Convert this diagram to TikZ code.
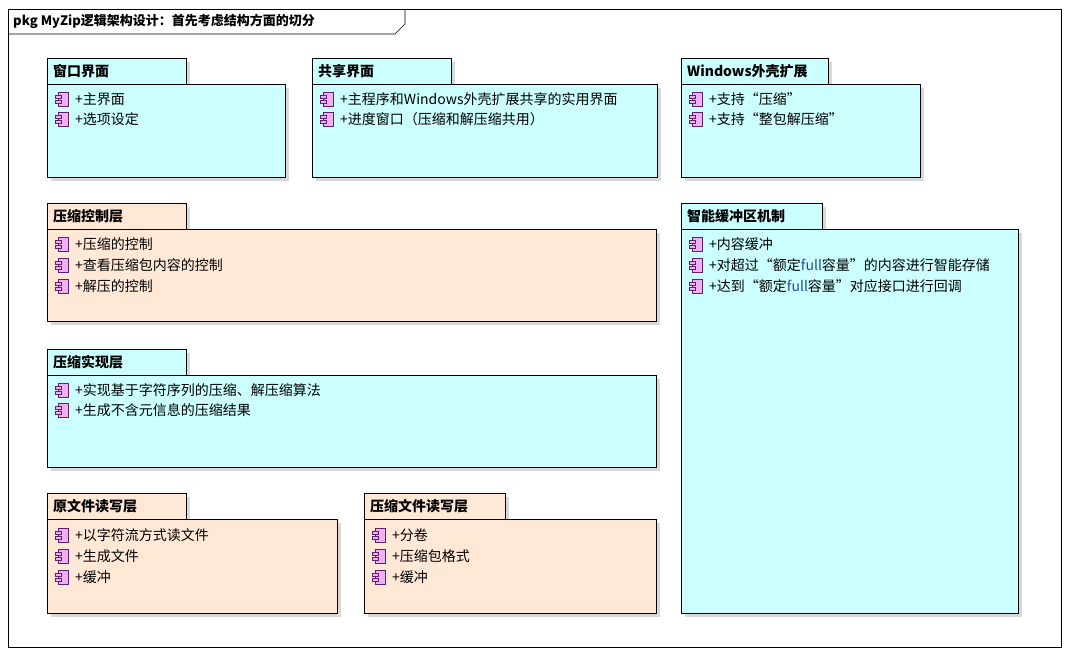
\documentclass[tikz,border=0pt]{standalone}
\usepackage{fontspec}
\setmainfont{Noto Sans CJK SC}
\usetikzlibrary{positioning}
\definecolor{cy}{HTML}{CCFFFF}
\definecolor{pe}{HTML}{FFE9D6}
\definecolor{ic}{HTML}{EEB0EE}
\definecolor{icd}{HTML}{602070}
\definecolor{fb}{HTML}{1F4E9E}
\tikzset{
 shad/.style={fill=black!15,draw=none},
 box/.style={draw=black,line width=0.7pt},
 ttl/.style={anchor=west,inner sep=0pt,font=\fontsize{14}{14}\selectfont\bfseries},
 itm/.style={anchor=west,inner sep=0pt,font=\fontsize{14}{14}\selectfont},
}
\newcommand\icn[2]{%
 \draw[icd,fill=ic,line width=0.6pt] (#1+4,#2-7) rectangle (#1+14,#2+7);
 \draw[icd,fill=ic,line width=0.6pt] (#1+1,#2-4) rectangle (#1+7,#2-1);
 \draw[icd,fill=ic,line width=0.6pt] (#1+1,#2+1) rectangle (#1+7,#2+4);}
\newcommand\pk[8]{%
 \fill[shad] (#2+4,#3+4) rectangle (#4+4,#3+30);
 \fill[shad] (#2+4,#3+30) rectangle (#5+4,#6+4);
 \draw[box,fill=#7] (#2,#3) rectangle (#4,#3+26);
 \draw[box,fill=#7] (#2,#3+26) rectangle (#5,#6);
 \node[ttl] (#1) at (#2+6,#3+13) {#8};}
\newcommand\itmx[4]{\icn{#2}{#3}\node[itm] (#1) at (#2+21,#3) {+#4};}
\begin{document}
\begin{tikzpicture}[x=1pt,y=-1pt]
\useasboundingbox[fill=white] (0,0) rectangle (1069,655);
\draw[box] (8,9) rectangle (1061,647);
\draw[box] (8,34) -- (395,34) -- (405,24) -- (405,9);
\node[anchor=west,inner sep=0pt,font=\fontsize{13}{13}\selectfont\bfseries] (title) at (13,21) {pkg MyZip逻辑架构设计：首先考虑结构方面的切分};
\pk{p1}{47}{58}{186}{285}{177}{cy}{窗口界面}
\itmx{a1}{54}{99}{主界面}
\itmx{a2}{54}{119}{选项设定}
\pk{p2}{312}{58}{451}{657}{177}{cy}{共享界面}
\itmx{b1}{319}{99}{主程序和Windows外壳扩展共享的实用界面}
\itmx{b2}{319}{119}{进度窗口（压缩和解压缩共用）}
\pk{p3}{681}{58}{828}{920}{177}{cy}{Windows外壳扩展}
\itmx{c1}{688}{99}{支持“压缩”}
\itmx{c2}{688}{119}{支持“整包解压缩”}
\pk{p4}{47}{203}{186}{656}{321}{pe}{压缩控制层}
\itmx{d1}{54}{244}{压缩的控制}
\itmx{d2}{54}{265}{查看压缩包内容的控制}
\itmx{d3}{54}{286}{解压的控制}
\pk{p5}{47}{349}{186}{656}{467}{cy}{压缩实现层}
\itmx{e1}{54}{390}{实现基于字符序列的压缩、解压缩算法}
\itmx{e2}{54}{410}{生成不含元信息的压缩结果}
\pk{p6}{47}{493}{186}{337}{613}{pe}{原文件读写层}
\itmx{f1}{54}{535}{以字符流方式读文件}
\itmx{f2}{54}{556}{生成文件}
\itmx{f3}{54}{577}{缓冲}
\pk{p7}{364}{493}{505}{656}{613}{pe}{压缩文件读写层}
\itmx{g1}{371}{535}{分卷}
\itmx{g2}{371}{556}{压缩包格式}
\itmx{g3}{371}{577}{缓冲}
\pk{p8}{681}{203}{822}{1018}{613}{cy}{智能缓冲区机制}
\itmx{h1}{688}{244}{内容缓冲}
\itmx{h2}{688}{265}{对超过“额定\textcolor{fb}{full}容量”的内容进行智能存储}
\itmx{h3}{688}{286}{达到“额定\textcolor{fb}{full}容量”对应接口进行回调}
\end{tikzpicture}
\end{document}
